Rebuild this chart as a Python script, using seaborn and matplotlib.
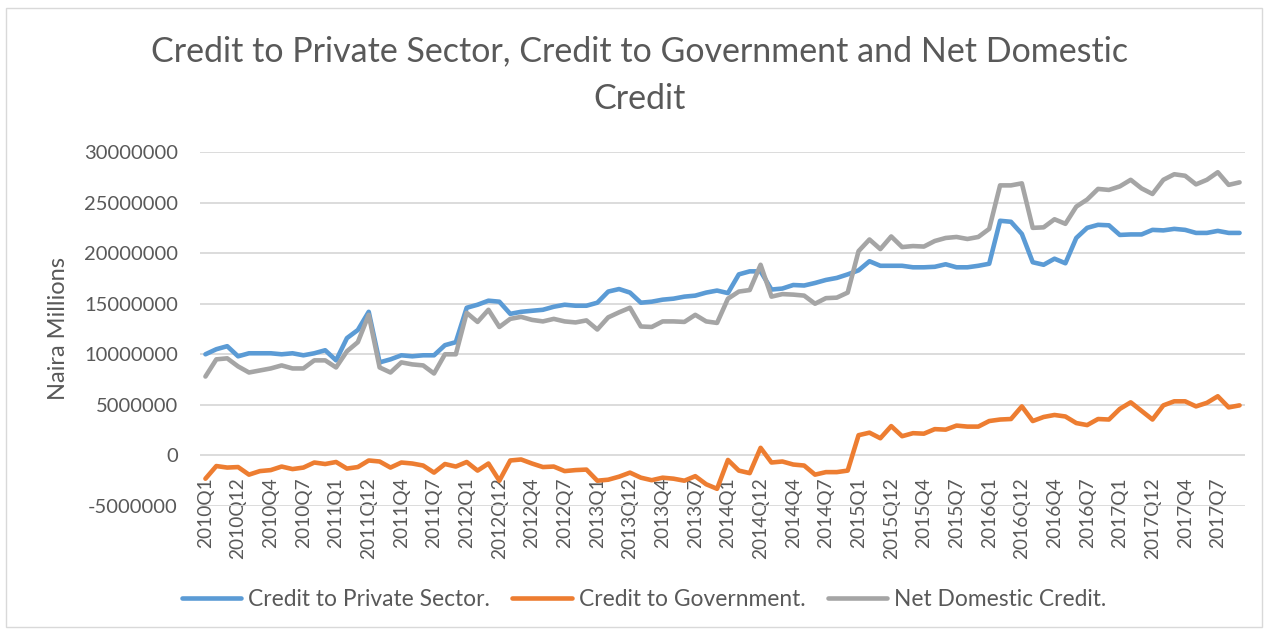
import matplotlib
matplotlib.use("Agg")
import matplotlib.pyplot as plt
import seaborn as sns
import pandas as pd
from matplotlib.patches import Rectangle

# ---- data (values in millions of Naira) ----
years = [2010, 2011, 2012, 2013, 2014, 2015, 2016, 2017]
# months appear in text-sorted order in the source sheet
month_order = ["1", "10", "11", "12", "2", "3", "4", "5", "6", "7", "8", "9"]
categories = [f"{y}Q{m}" for y in years for m in month_order]

private_sector = [
    10.0, 10.5, 10.8, 9.8, 10.1, 10.1, 10.1, 10.0, 10.1, 9.9, 10.1, 10.4,
    9.4, 11.6, 12.4, 14.2, 9.2, 9.5, 9.9, 9.8, 9.9, 9.9, 10.9, 11.2,
    14.6, 14.9, 15.3, 15.2, 14.0, 14.2, 14.3, 14.4, 14.7, 14.9, 14.8, 14.8,
    15.1, 16.2, 16.45, 16.1, 15.1, 15.2, 15.4, 15.5, 15.7, 15.8, 16.1, 16.3,
    16.05, 17.9, 18.2, 18.2, 16.4, 16.5, 16.85, 16.8, 17.05, 17.35, 17.55, 17.9,
    18.3, 19.2, 18.75, 18.75, 18.75, 18.6, 18.6, 18.65, 18.9, 18.6, 18.6, 18.75,
    18.95, 23.2, 23.1, 21.9, 19.1, 18.85, 19.45, 19.0, 21.5, 22.5, 22.8, 22.75,
    21.8, 21.85, 21.85, 22.3, 22.25, 22.4, 22.3, 22.0, 22.0, 22.2, 22.0, 22.0,
]
government = [
    -2.3, -1.05, -1.2, -1.15, -1.9, -1.55, -1.45, -1.1, -1.35, -1.2, -0.7, -0.85,
    -0.65, -1.3, -1.15, -0.5, -0.6, -1.2, -0.7, -0.8, -1.0, -1.7, -0.85, -1.1,
    -0.65, -1.5, -0.8, -2.5, -0.5, -0.4, -0.8, -1.15, -1.1, -1.55, -1.45, -1.4,
    -2.5, -2.4, -2.1, -1.7, -2.2, -2.45, -2.2, -2.3, -2.5, -2.05, -2.85, -3.3,
    -0.45, -1.5, -1.75, 0.75, -0.7, -0.6, -0.9, -1.0, -1.9, -1.65, -1.65, -1.5,
    2.0, 2.25, 1.7, 2.9, 1.9, 2.2, 2.15, 2.6, 2.55, 2.95, 2.85, 2.85,
    3.4, 3.55, 3.6, 4.85, 3.4, 3.8, 4.0, 3.85, 3.2, 3.0, 3.6, 3.55,
    4.6, 5.25, 4.4, 3.55, 4.95, 5.35, 5.35, 4.85, 5.2, 5.85, 4.75, 4.95,
]
net_domestic = [
    7.8, 9.5, 9.6, 8.8, 8.2, 8.4, 8.6, 8.9, 8.6, 8.6, 9.4, 9.4,
    8.7, 10.3, 11.2, 13.9, 8.7, 8.2, 9.2, 9.0, 8.9, 8.1, 10.0, 10.0,
    14.1, 13.2, 14.4, 12.7, 13.5, 13.7, 13.4, 13.25, 13.5, 13.25, 13.15, 13.35,
    12.45, 13.65, 14.15, 14.6, 12.75, 12.7, 13.25, 13.25, 13.2, 13.9, 13.25, 13.1,
    15.5, 16.2, 16.35, 18.85, 15.7, 15.95, 15.9, 15.8, 15.0, 15.55, 15.6, 16.1,
    20.2, 21.35, 20.4, 21.65, 20.6, 20.7, 20.65, 21.2, 21.5, 21.6, 21.4, 21.6,
    22.4, 26.7, 26.7, 26.9, 22.5, 22.55, 23.35, 22.9, 24.6, 25.3, 26.35, 26.25,
    26.6, 27.25, 26.4, 25.85, 27.25, 27.8, 27.65, 26.8, 27.25, 28.0, 26.75, 27.0,
]
series_names = ["Credit to Private Sector.", "Credit to Government.", "Net Domestic Credit."]
y_ticks = [-5000000, 0, 5000000, 10000000, 15000000, 20000000, 25000000, 30000000]

title = "Credit to Private Sector, Credit to Government and Net Domestic\nCredit"
y_label = "Naira Millions"

# ---- build long table ----
rows = []
for name, vals in zip(series_names, [private_sector, government, net_domestic]):
    for i, (cat, v) in enumerate(zip(categories, vals)):
        rows.append({"idx": i, "period": cat, "series": name, "value": v * 1e6})
df = pd.DataFrame(rows)

sns.set_theme(style="white")
plt.rcParams["font.family"] = ["Lato", "DejaVu Sans"]

text_color = "#595959"
grid_color = "#D9D9D9"
palette = {series_names[0]: "#5B9BD5", series_names[1]: "#ED7D31", series_names[2]: "#A5A5A5"}

W, H = 1268, 631
fig = plt.figure(figsize=(W / 100, H / 100), dpi=100)
ax_left, ax_right, ax_top, ax_bottom = 200, 1245, 152, 506
ax = fig.add_axes([ax_left / W, 1 - ax_bottom / H, (ax_right - ax_left) / W, (ax_bottom - ax_top) / H])

sns.lineplot(data=df, x="idx", y="value", hue="series", palette=palette,
             hue_order=series_names, linewidth=3.3, ax=ax, legend=False,
             solid_capstyle="round", solid_joinstyle="round")

ax.spines["bottom"].set_position(("data", 0))
for s in ax.spines.values():
    s.set_visible(False)

ax.set_xlim(-0.5, len(categories) - 0.5)
ax.set_ylim(-5000000, 30000000)
ax.set_yticks(y_ticks)
ax.set_yticklabels([str(t) for t in y_ticks], fontsize=14.5, color=text_color)
ax.yaxis.grid(True, color=grid_color, linewidth=1.3)
ax.xaxis.grid(False)
ax.set_axisbelow(True)

tick_idx = list(range(0, len(categories), 3))
ax.set_xticks(tick_idx)
ax.set_xticklabels([categories[i] for i in tick_idx], rotation=90, fontsize=13.8,
                   color=text_color, va="top", ha="center")
ax.tick_params(axis="x", length=0, pad=16)
ax.tick_params(axis="y", length=0, pad=16)

ax.set_xlabel("")
ax.set_ylabel(y_label, fontsize=17, color=text_color)
ax.yaxis.set_label_coords((69 - ax_left) / (ax_right - ax_left), 0.5)

fig.text(640 / W, 1 - 75 / H, title, ha="center", va="center", fontsize=24.5,
         color=text_color, linespacing=1.6)

handles = [plt.Line2D([], [], color=palette[n], linewidth=3.3) for n in series_names]
fig.legend(handles, series_names, loc="center", bbox_to_anchor=(644 / W, 1 - 599 / H),
           ncol=3, frameon=False, fontsize=16.4, handlelength=2.6, handletextpad=0.3,
           columnspacing=1.0, labelcolor=text_color)

fig.patches.append(Rectangle((6 / W, 1 - 627 / H), (1262 - 6) / W, (627 - 8) / H,
                             transform=fig.transFigure, fill=False,
                             edgecolor=grid_color, linewidth=1.0))

fig.savefig("out.png", dpi=100, facecolor="white")
